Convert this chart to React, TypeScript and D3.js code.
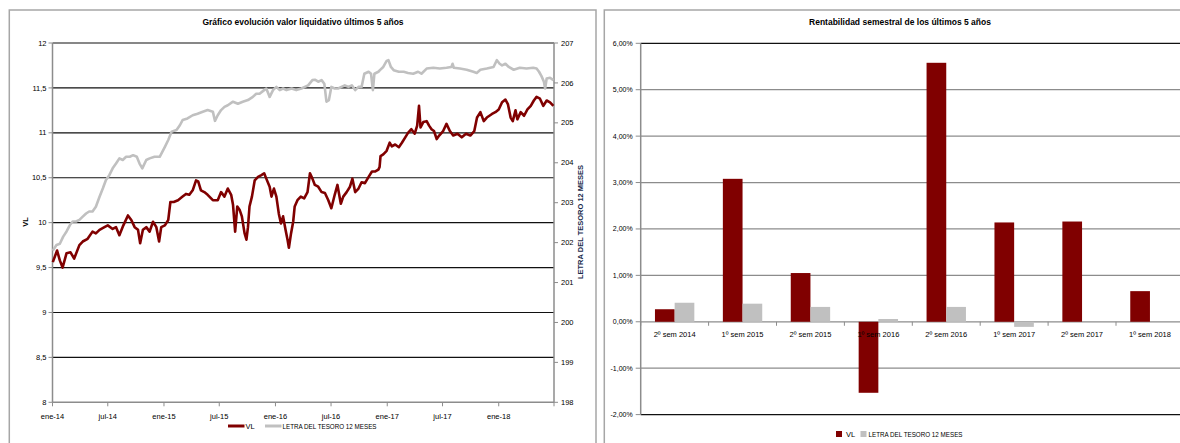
import React from 'react';
import * as d3 from 'd3';

const W = 1180;
const H = 443;
const FONT = "'Liberation Sans', Arial, sans-serif";

// ---- Line chart data (VL, left axis) ----
const vlData: [string, number][] = [
  ['2014-01-02', 9.56], ['2014-01-16', 9.69], ['2014-01-25', 9.58], ['2014-02-03', 9.5], ['2014-02-16', 9.66],
  ['2014-03-01', 9.67], ['2014-03-13', 9.6], ['2014-03-30', 9.75], ['2014-04-10', 9.79], ['2014-04-26', 9.82],
  ['2014-05-12', 9.9], ['2014-05-23', 9.88], ['2014-06-04', 9.92], ['2014-06-20', 9.95], ['2014-07-01', 9.97],
  ['2014-07-17', 9.93], ['2014-07-28', 9.95], ['2014-08-08', 9.86], ['2014-08-21', 9.97], ['2014-09-05', 10.08],
  ['2014-09-16', 10.03], ['2014-09-27', 9.95], ['2014-10-08', 9.92], ['2014-10-15', 9.77], ['2014-10-24', 9.92],
  ['2014-11-04', 9.95], ['2014-11-15', 9.9], ['2014-11-26', 10.01], ['2014-12-07', 9.95], ['2014-12-16', 9.79],
  ['2014-12-23', 9.95], ['2015-01-04', 9.97], ['2015-01-15', 10.03], ['2015-01-22', 10.23], ['2015-02-02', 10.23],
  ['2015-02-16', 10.25], ['2015-03-03', 10.29], ['2015-03-14', 10.32], ['2015-03-25', 10.31], ['2015-04-05', 10.36],
  ['2015-04-16', 10.47], ['2015-04-23', 10.46], ['2015-05-02', 10.36], ['2015-05-13', 10.34], ['2015-05-24', 10.31],
  ['2015-06-10', 10.25], ['2015-06-26', 10.25], ['2015-07-07', 10.34], ['2015-07-18', 10.29], ['2015-07-29', 10.38],
  ['2015-08-09', 10.31], ['2015-08-15', 10.2], ['2015-08-22', 9.9], ['2015-08-29', 10.18], ['2015-09-06', 10.14],
  ['2015-09-13', 10.07], ['2015-09-22', 9.88], ['2015-09-28', 9.81], ['2015-10-03', 9.95], ['2015-10-08', 10.18],
  ['2015-10-16', 10.29], ['2015-10-25', 10.47], ['2015-11-05', 10.51], ['2015-11-16', 10.53], ['2015-11-25', 10.55],
  ['2015-12-02', 10.49], ['2015-12-13', 10.4], ['2015-12-19', 10.29], ['2015-12-27', 10.38], ['2016-01-04', 10.29],
  ['2016-01-12', 10.1], ['2016-01-19', 9.99], ['2016-01-26', 10.07], ['2016-02-03', 9.92], ['2016-02-10', 9.8],
  ['2016-02-14', 9.72], ['2016-02-21', 9.88], ['2016-02-28', 10.01], ['2016-03-04', 10.18], ['2016-03-13', 10.25],
  ['2016-03-24', 10.29], ['2016-04-04', 10.27], ['2016-04-15', 10.34], ['2016-04-23', 10.55], ['2016-05-01', 10.49],
  ['2016-05-09', 10.42], ['2016-05-20', 10.4], ['2016-05-31', 10.34], ['2016-06-11', 10.33], ['2016-06-22', 10.25],
  ['2016-07-02', 10.16], ['2016-07-13', 10.31], ['2016-07-22', 10.42], ['2016-08-02', 10.21], ['2016-08-10', 10.29],
  ['2016-08-21', 10.34], ['2016-09-01', 10.4], ['2016-09-09', 10.49], ['2016-09-18', 10.34], ['2016-09-29', 10.38],
  ['2016-10-09', 10.45], ['2016-10-20', 10.44], ['2016-11-01', 10.51], ['2016-11-12', 10.57], ['2016-11-23', 10.57],
  ['2016-12-03', 10.59], ['2016-12-07', 10.62], ['2016-12-10', 10.74], ['2016-12-19', 10.76], ['2016-12-30', 10.8],
  ['2017-01-09', 10.89], ['2017-01-16', 10.85], ['2017-01-27', 10.87], ['2017-02-08', 10.84], ['2017-02-18', 10.89],
  ['2017-03-01', 10.95], ['2017-03-10', 11.0], ['2017-03-21', 11.04], ['2017-04-01', 10.99], ['2017-04-09', 11.08],
  ['2017-04-15', 11.3], ['2017-04-20', 11.06], ['2017-04-29', 11.12], ['2017-05-10', 11.13], ['2017-05-18', 11.08],
  ['2017-05-26', 11.04], ['2017-06-03', 11.02], ['2017-06-12', 10.93], ['2017-06-20', 10.97], ['2017-07-03', 11.02],
  ['2017-07-14', 11.1], ['2017-07-25', 11.02], ['2017-08-05', 10.97], ['2017-08-19', 10.99], ['2017-09-02', 10.95],
  ['2017-09-16', 10.99], ['2017-09-30', 10.97], ['2017-10-13', 11.02], ['2017-10-22', 11.17], ['2017-11-02', 11.23],
  ['2017-11-13', 11.13], ['2017-11-23', 11.17], ['2017-12-10', 11.21], ['2017-12-21', 11.23], ['2018-01-01', 11.26],
  ['2018-01-12', 11.34], ['2018-01-23', 11.37], ['2018-01-31', 11.32], ['2018-02-09', 11.17], ['2018-02-16', 11.13],
  ['2018-02-25', 11.25], ['2018-03-03', 11.15], ['2018-03-14', 11.23], ['2018-03-25', 11.19], ['2018-04-05', 11.26],
  ['2018-04-16', 11.3], ['2018-04-26', 11.36], ['2018-05-05', 11.4], ['2018-05-16', 11.38], ['2018-05-27', 11.3],
  ['2018-06-07', 11.36], ['2018-06-18', 11.34], ['2018-06-29', 11.3],
];

// ---- Line chart data (Letra del Tesoro 12 meses, right axis) ----
const letraData: [string, number][] = [
  ['2014-01-02', 201.8], ['2014-01-14', 201.94], ['2014-01-25', 201.97], ['2014-02-05', 202.15], ['2014-02-16', 202.28],
  ['2014-02-27', 202.44], ['2014-03-08', 202.53], ['2014-03-19', 202.53], ['2014-03-30', 202.57], ['2014-04-10', 202.65],
  ['2014-04-21', 202.73], ['2014-05-01', 202.78], ['2014-05-12', 202.78], ['2014-05-23', 202.9], ['2014-06-04', 203.15],
  ['2014-06-15', 203.36], ['2014-06-25', 203.57], ['2014-07-06', 203.69], ['2014-07-17', 203.86], ['2014-07-28', 203.98],
  ['2014-08-08', 204.11], ['2014-08-19', 204.07], ['2014-08-30', 204.15], ['2014-09-11', 204.15], ['2014-09-22', 204.19],
  ['2014-10-04', 204.15], ['2014-10-13', 203.98], ['2014-10-22', 203.86], ['2014-11-04', 204.07], ['2014-11-15', 204.11],
  ['2014-12-01', 204.15], ['2014-12-18', 204.15], ['2015-01-04', 204.4], ['2015-01-15', 204.57], ['2015-01-26', 204.78],
  ['2015-02-11', 204.82], ['2015-02-22', 204.94], ['2015-03-03', 205.07], ['2015-03-19', 205.11], ['2015-04-05', 205.19],
  ['2015-04-21', 205.23], ['2015-05-08', 205.28], ['2015-05-24', 205.32], ['2015-06-10', 205.28], ['2015-06-17', 205.05],
  ['2015-06-26', 205.19], ['2015-07-07', 205.32], ['2015-07-18', 205.4], ['2015-07-29', 205.44], ['2015-08-15', 205.53],
  ['2015-08-31', 205.48], ['2015-09-16', 205.53], ['2015-10-03', 205.57], ['2015-10-19', 205.65], ['2015-10-30', 205.73],
  ['2015-11-10', 205.73], ['2015-11-25', 205.82], ['2015-12-02', 205.86], ['2015-12-13', 205.65], ['2015-12-24', 205.82],
  ['2016-01-04', 205.9], ['2016-01-15', 205.82], ['2016-01-26', 205.86], ['2016-02-06', 205.82], ['2016-02-23', 205.86],
  ['2016-03-09', 205.82], ['2016-03-26', 205.86], ['2016-04-06', 205.9], ['2016-04-17', 205.94], ['2016-05-01', 206.07],
  ['2016-05-09', 206.08], ['2016-05-20', 206.03], ['2016-05-31', 206.07], ['2016-06-09', 205.98], ['2016-06-16', 205.53],
  ['2016-06-24', 205.57], ['2016-07-02', 205.9], ['2016-07-13', 205.86], ['2016-07-24', 205.86], ['2016-08-04', 205.9],
  ['2016-08-15', 205.94], ['2016-08-27', 205.9], ['2016-09-07', 205.94], ['2016-09-18', 205.82], ['2016-09-29', 205.9],
  ['2016-10-09', 205.9], ['2016-10-18', 206.23], ['2016-11-01', 206.28], ['2016-11-09', 206.23], ['2016-11-15', 205.82],
  ['2016-11-20', 206.23], ['2016-12-03', 206.28], ['2016-12-08', 206.32], ['2016-12-19', 206.4], ['2016-12-30', 206.55],
  ['2017-01-05', 206.57], ['2017-01-13', 206.4], ['2017-01-22', 206.32], ['2017-02-08', 206.28], ['2017-02-24', 206.28],
  ['2017-03-10', 206.25], ['2017-03-27', 206.23], ['2017-04-12', 206.28], ['2017-04-23', 206.23], ['2017-05-10', 206.36],
  ['2017-06-01', 206.38], ['2017-06-22', 206.36], ['2017-07-14', 206.38], ['2017-07-30', 206.4], ['2017-08-03', 206.48],
  ['2017-08-07', 206.38], ['2017-08-27', 206.36], ['2017-09-18', 206.33], ['2017-10-10', 206.28], ['2017-10-21', 206.25],
  ['2017-11-02', 206.33], ['2017-11-23', 206.36], ['2017-12-15', 206.4], ['2017-12-26', 206.57], ['2018-01-04', 206.48],
  ['2018-01-12', 206.44], ['2018-01-23', 206.48], ['2018-02-03', 206.4], ['2018-02-19', 206.33], ['2018-03-11', 206.38],
  ['2018-04-02', 206.36], ['2018-04-24', 206.38], ['2018-05-05', 206.36], ['2018-05-13', 206.28], ['2018-05-21', 206.17],
  ['2018-05-29', 206.03], ['2018-06-02', 205.86], ['2018-06-07', 206.11], ['2018-06-18', 206.13], ['2018-06-29', 206.07],
];

const leftTicks = [8, 8.5, 9, 9.5, 10, 10.5, 11, 11.5, 12];
const rightTicks = [198, 199, 200, 201, 202, 203, 204, 205, 206, 207];
const mesesAbbr = ['ene', 'feb', 'mar', 'abr', 'may', 'jun', 'jul', 'ago', 'sep', 'oct', 'nov', 'dic'];

// ---- Bar chart data ----
const semesters = ['2º sem 2014', '1º sem 2015', '2º sem 2015', '1º sem 2016', '2º sem 2016', '1º sem 2017', '2º sem 2017', '1º sem 2018'];
const vlReturns: (number | null)[] = [0.27, 3.08, 1.05, -1.53, 5.58, 2.14, 2.16, 0.66];
const letraReturns: (number | null)[] = [0.41, 0.39, 0.32, 0.06, 0.32, -0.11, null, null];
const pctTicks = [-2, -1, 0, 1, 2, 3, 4, 5, 6];

const RED = '#800000';
const GRAY = '#c0c0c0';
const BORDER = '#a6a6a6';
const AXIS = '#8c8c8c';

function fmtPct(v: number) {
  return v.toFixed(2).replace('.', ',') + '%';
}
function fmtNum(v: number) {
  return String(v).replace('.', ',');
}

function LineChart() {
  const parse = d3.timeParse('%Y-%m-%d');
  const start = new Date(2014, 0, 1);
  const end = new Date(2018, 6, 1);
  const x = d3.scaleTime().domain([start, end]).range([52.5, 554]);
  const yL = d3.scaleLinear().domain([8, 12]).range([402.3, 43]);
  const yR = d3.scaleLinear().domain([198, 207]).range([402.3, 43]);

  const vl = vlData.map(([d, v]) => ({ date: parse(d) as Date, v }));
  const le = letraData.map(([d, v]) => ({ date: parse(d) as Date, v }));

  const lineL = d3.line<{ date: Date; v: number }>().x((d) => x(d.date)).y((d) => yL(d.v));
  const lineR = d3.line<{ date: Date; v: number }>().x((d) => x(d.date)).y((d) => yR(d.v));

  const xTicks = d3.timeMonth.every(6)!.range(start, new Date(2018, 6, 2));
  const [x0, x1] = x.range();

  return (
    <g fontFamily={FONT}>
      <rect x={9.3} y={10} width={586.7} height={445} fill="#fff" stroke={BORDER} strokeWidth={1.5} />
      <text x={303} y={25} textAnchor="middle" fontSize={8.5} fontWeight="bold" fill="#000">
        Gráfico evolución valor liquidativo últimos 5 años
      </text>
      {leftTicks.filter((t) => t > 8).map((t) => (
        <line key={'g' + t} x1={x0} x2={x1} y1={yL(t)} y2={yL(t)} stroke="#111" strokeWidth={1.2} />
      ))}
      {/* axes */}
      <line x1={x0} x2={x0} y1={yL(12)} y2={yL(8)} stroke={AXIS} strokeWidth={1.5} />
      <line x1={x1} x2={x1} y1={yL(12)} y2={yL(8)} stroke={AXIS} strokeWidth={1.5} />
      <line x1={x0} x2={x1} y1={yL(8)} y2={yL(8)} stroke={AXIS} strokeWidth={1.5} />
      {leftTicks.map((t) => (
        <g key={'l' + t}>
          <line x1={x0 - 4} x2={x0} y1={yL(t)} y2={yL(t)} stroke={AXIS} strokeWidth={1} />
          <text x={x0 - 6} y={yL(t)} dy="0.35em" textAnchor="end" fontSize={7.5} fill="#000">
            {fmtNum(t)}
          </text>
        </g>
      ))}
      {rightTicks.map((t) => (
        <g key={'r' + t}>
          <line x1={x1} x2={x1 + 4} y1={yR(t)} y2={yR(t)} stroke={AXIS} strokeWidth={1} />
          <text x={x1 + 7} y={yR(t)} dy="0.35em" textAnchor="start" fontSize={7.5} fill="#000">
            {t}
          </text>
        </g>
      ))}
      {xTicks.map((d, i) => (
        <g key={'x' + i}>
          <line x1={x(d)} x2={x(d)} y1={yL(8)} y2={yL(8) + 4} stroke={AXIS} strokeWidth={1} />
          {i < xTicks.length - 1 && (
            <text x={x(d)} y={416} dy="0.35em" textAnchor="middle" fontSize={7.5} fill="#000">
              {mesesAbbr[d.getMonth()] + '-' + String(d.getFullYear()).slice(2)}
            </text>
          )}
        </g>
      ))}
      <path d={lineR(le) || ''} fill="none" stroke={GRAY} strokeWidth={2.6} strokeLinejoin="round" />
      <path d={lineL(vl) || ''} fill="none" stroke={RED} strokeWidth={2.6} strokeLinejoin="round" />
      <text transform={`translate(28,222) rotate(-90)`} textAnchor="middle" fontSize={7.5} fontWeight="bold" fill="#000">
        VL
      </text>
      <text transform={`translate(583,222) rotate(-90)`} textAnchor="middle" fontSize={7.5} fontWeight="bold" fill="#1a2b4c">
        LETRA DEL TESORO  12 MESES
      </text>
      {/* legend */}
      <line x1={228} x2={244.5} y1={426} y2={426} stroke={RED} strokeWidth={3} />
      <text x={245.5} y={426} dy="0.35em" fontSize={7.5} fill="#000">VL</text>
      <line x1={265} x2={281.5} y1={426} y2={426} stroke={GRAY} strokeWidth={3} />
      <text x={282.5} y={426} dy="0.35em" fontSize={7.5} fill="#000" textLength={94} lengthAdjust="spacingAndGlyphs">
        LETRA DEL TESORO 12 MESES
      </text>
    </g>
  );
}

function BarChart() {
  const left = 640.7;
  const step = 67.9;
  const x = d3
    .scaleBand<string>()
    .domain(semesters)
    .range([left, left + step * semesters.length])
    .paddingInner(0.42)
    .paddingOuter(0.21);
  const xs = d3.scaleBand<string>().domain(['VL', 'LETRA']).range([0, x.bandwidth()]);
  const y = d3.scaleLinear().domain([-2, 6]).range([414.6, 43.3]);
  const right = 1180;
  const series = [
    { key: 'VL', values: vlReturns, color: RED },
    { key: 'LETRA', values: letraReturns, color: GRAY },
  ];
  const boundaries = d3.range(semesters.length + 1).map((i) => left + i * x.step());

  return (
    <g fontFamily={FONT}>
      <rect x={604.3} y={10} width={600} height={445} fill="#fff" stroke={BORDER} strokeWidth={1.5} />
      <text x={900} y={25} textAnchor="middle" fontSize={8.5} fontWeight="bold" fill="#000">
        Rentabilidad semestral de los últimos 5 años
      </text>
      {pctTicks.map((t) => (
        <line
          key={'g' + t}
          x1={left}
          x2={right}
          y1={y(t)}
          y2={y(t)}
          stroke={t === 6 || t === -2 ? '#111' : AXIS}
          strokeWidth={1.3}
        />
      ))}
      <line x1={left} x2={left} y1={y(6)} y2={y(-2)} stroke={AXIS} strokeWidth={1.5} />
      {pctTicks.map((t) => (
        <g key={'t' + t}>
          <line x1={left - 5} x2={left} y1={y(t)} y2={y(t)} stroke={AXIS} strokeWidth={1} />
          <text x={left - 8} y={y(t)} dy="0.35em" textAnchor="end" fontSize={7} fill="#000">
            {fmtPct(t)}
          </text>
        </g>
      ))}
      {series.map((s) =>
        s.values.map((v, i) =>
          v === null ? null : (
            <rect
              key={s.key + i}
              x={(x(semesters[i]) as number) + (xs(s.key) as number)}
              width={xs.bandwidth()}
              y={y(Math.max(0, v))}
              height={Math.abs(y(v) - y(0))}
              fill={s.color}
            />
          )
        )
      )}
      {boundaries.map((b, i) => (
        <line key={'b' + i} x1={b} x2={b} y1={y(0)} y2={y(0) + 4} stroke={AXIS} strokeWidth={1} />
      ))}
      {semesters.map((s) => (
        <text
          key={s}
          x={(x(s) as number) + x.bandwidth() / 2}
          y={334.5}
          dy="0.35em"
          textAnchor="middle"
          fontSize={7.5}
          fill="#000"
        >
          {s}
        </text>
      ))}
      {/* legend */}
      <rect x={836} y={431} width={6} height={6} fill={RED} />
      <text x={846} y={434} dy="0.35em" fontSize={7.5} fill="#000">VL</text>
      <rect x={860.5} y={431} width={6} height={6} fill={GRAY} />
      <text x={868.5} y={434} dy="0.35em" fontSize={7.5} fill="#000" textLength={94} lengthAdjust="spacingAndGlyphs">
        LETRA DEL TESORO 12 MESES
      </text>
    </g>
  );
}

export default function App() {
  return (
    <div style={{ position: 'absolute', left: 0, top: 0, width: W, height: H, background: '#fff' }}>
      <svg width={W} height={H} style={{ display: 'block' }}>
        <rect x={0} y={0} width={W} height={H} fill="#fff" />
        <LineChart />
        <BarChart />
      </svg>
    </div>
  );
}
